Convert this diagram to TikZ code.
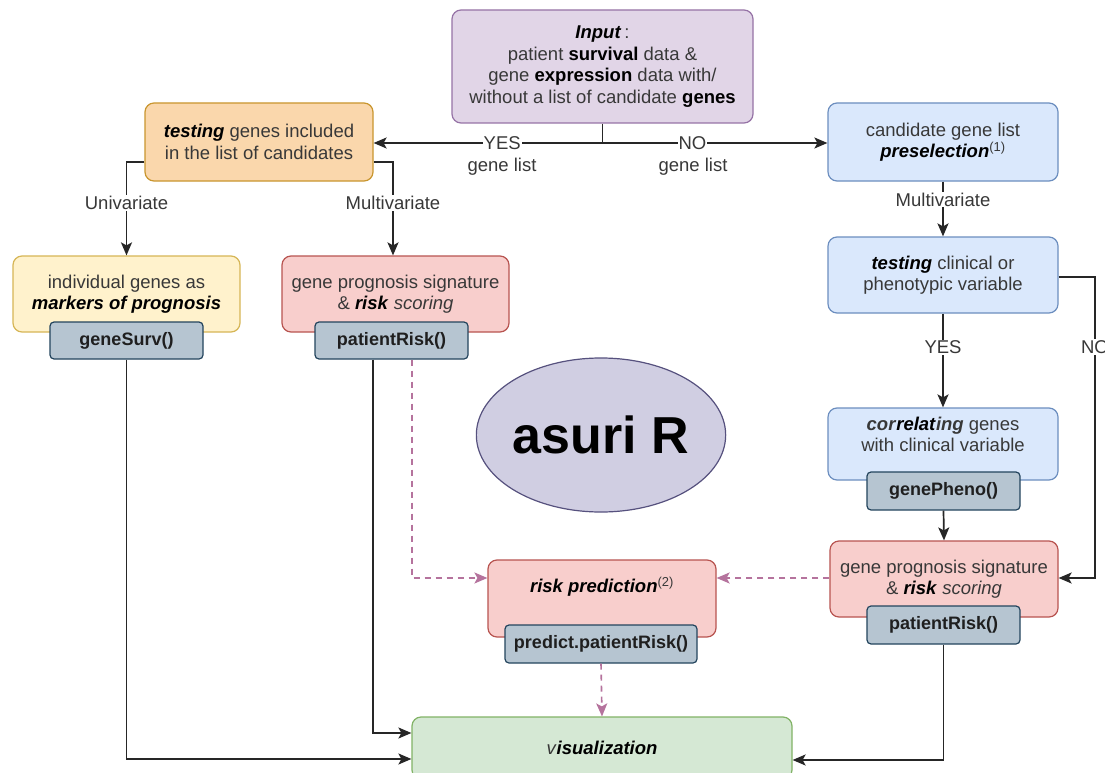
\documentclass[tikz,border=0pt]{standalone}
\usepackage{fontspec}
\setmainfont{Liberation Sans}
\usetikzlibrary{arrows.meta,shapes.geometric,calc}
\definecolor{txt}{HTML}{383838}
\definecolor{lncol}{HTML}{262626}
\definecolor{purfill}{HTML}{E1D5E7}\definecolor{purline}{HTML}{9673A6}
\definecolor{orfill}{HTML}{FAD7AC}\definecolor{orline}{HTML}{C9962F}
\definecolor{yefill}{HTML}{FFF2CC}\definecolor{yeline}{HTML}{D6B656}
\definecolor{refill}{HTML}{F8CECC}\definecolor{reline}{HTML}{B85450}
\definecolor{blfill}{HTML}{DAE8FC}\definecolor{blline}{HTML}{6C8EBF}
\definecolor{grfill}{HTML}{D5E8D4}\definecolor{grline}{HTML}{82B366}
\definecolor{fnfill}{HTML}{B6C5D1}\definecolor{fnline}{HTML}{23445D}
\definecolor{elfill}{HTML}{D0CEE2}\definecolor{elline}{HTML}{56517E}
\definecolor{dashc}{HTML}{B5739D}
\newcommand{\bfit}[1]{\textcolor{black}{\textbf{\textit{#1}}}}
\newcommand{\bfb}[1]{\textcolor{black}{\textbf{#1}}}
\begin{document}
\begin{tikzpicture}[x=1pt,y=-1pt,
  flowbox/.style={draw, rounded corners=9pt, line width=1.2pt, align=center, inner sep=0pt, text=txt, font=\fontsize{18.5}{21.5}\selectfont},
  fnbox/.style={draw=fnline, fill=fnfill, rounded corners=4pt, line width=1.2pt, inner sep=0pt, text=black!88, font=\bfseries\fontsize{18}{21}\selectfont},
  conn/.style={draw=lncol, line width=1.7pt, -{Stealth[length=13pt,width=11pt,inset=3pt]}},
  plainln/.style={draw=lncol, line width=1.7pt},
  dconn/.style={draw=dashc, line width=1.6pt, dash pattern=on 6pt off 5pt, -{Stealth[length=13pt,width=11pt,inset=3pt]}},
  lbl/.style={fill=white, inner sep=1pt, text=txt, font=\fontsize{18.5}{21.5}\selectfont},
  nolbl/.style={inner sep=1pt, text=txt, font=\fontsize{18.5}{21.5}\selectfont}
]
\useasboundingbox (0,0) rectangle (1105,773);
\fill[white] (0,0) rectangle (1105,773);

% main boxes
\node[flowbox, fill=purfill, draw=purline, minimum width=301pt, minimum height=113pt] (input) at (602.5,66.5)
  {\bfit{Input}\,:\\patient \bfb{survival} data \&\\gene \bfb{expression} data with/\\without a list of candidate \bfb{genes}};
\node[flowbox, fill=orfill, draw=orline, minimum width=228pt, minimum height=78pt] (test) at (259,142)
  {\bfit{testing} genes included\\in the list of candidates};
\node[flowbox, fill=blfill, draw=blline, minimum width=230pt, minimum height=78pt] (pre) at (943,142)
  {candidate gene list\\\bfit{preselection}\textsuperscript{(1)}};
\node[flowbox, fill=yefill, draw=yeline, minimum width=227pt, minimum height=76pt] (marker) at (126.5,294)
  {individual genes as\\\bfit{markers of prognosis}\vphantom{p}};
\node[flowbox, fill=refill, draw=reline, minimum width=227pt, minimum height=76pt] (sig1) at (395.5,294)
  {gene prognosis signature\\\& \bfit{risk} \textit{scoring}};
\node[flowbox, fill=blfill, draw=blline, minimum width=230pt, minimum height=76pt] (clin) at (943,275)
  {\bfit{testing} clinical or\\phenotypic variable};
\node[flowbox, fill=blfill, draw=blline, minimum width=230pt, minimum height=72pt] (corr) at (943,444)
  {\textit{\textbf{cor}}\bfit{relat}\textit{\textbf{ing}} genes\\with clinical variable\\[-2pt]};
\node[flowbox, fill=refill, draw=reline, minimum width=228pt, minimum height=76pt] (sig2) at (944,579)
  {gene prognosis signature\\\& \bfit{risk} \textit{scoring}};
\node[flowbox, fill=refill, draw=reline, minimum width=228pt, minimum height=77pt] (riskpred) at (602,598.5)
  {\bfit{risk prediction}\textsuperscript{(2)}\\[6pt]};
\node[flowbox, fill=grfill, draw=grline, minimum width=380pt, minimum height=62pt] (vis) at (602,748)
  {\textit{v}\bfit{isualization}};
\node[ellipse, draw=elline, fill=elfill, line width=1.2pt, minimum width=228pt, minimum height=154pt, inner sep=0pt,
  font=\bfseries\fontsize{52}{60}\selectfont] (asuri) at (601,435) {asuri R};

% function boxes
\node[fnbox, minimum width=153pt, minimum height=37pt] (gsurv) at (126.5,340.5) {geneSurv()};
\node[fnbox, minimum width=153pt, minimum height=37pt] (pr1) at (391.5,340.5) {patientRisk()};
\node[fnbox, minimum width=153pt, minimum height=38pt] (gpheno) at (943.5,491) {genePheno()};
\node[fnbox, minimum width=153pt, minimum height=38pt] (pr2) at (943.5,625) {patientRisk()};
\node[fnbox, minimum width=192pt, minimum height=38pt] (predict) at (601,644) {predict.patientRisk()};

% input split
\coordinate (split) at (602.5,143);
\coordinate (nox) at (1095,0);
\draw[plainln] (input.south) -- (split);
\draw[conn] (split) -- node[lbl, pos=0.438] (yes1) {YES} (split -| test.east);
\draw[conn] (split) -- node[lbl, pos=0.40] (no1) {NO} (split -| pre.west);
\node[nolbl] (gl1) at (502,167) {gene list};
\node[nolbl] (gl2) at (693,167) {gene list};

% left branches
\draw[conn] ([yshift=-20pt]test.west) -| node[lbl, pos=0.72] (uni) {Univariate} (marker.north);
\draw[conn] ([yshift=-20pt]test.east) -| node[lbl, pos=0.72] (multi1) {Multivariate} ([xshift=-2.5pt]sig1.north);

% right column
\draw[conn] (pre.south) -- node[lbl, pos=0.33] (multi2) {Multivariate} (clin.north);
\draw[conn] (clin.south) -- node[lbl, pos=0.36] (yes2) {YES} (corr.north);
\draw[conn] ([yshift=-2pt]clin.east) -- ([yshift=-2pt]clin.east -| nox) |- ([yshift=1pt]sig2.east);
\node[lbl] (no2) at (1095,347) {NO};
\draw[conn] (gpheno.south) -- (sig2.north);

% to visualization
\draw[conn] (gsurv.south) |- ([yshift=-11pt]vis.west);
\draw[conn] ([xshift=-18.5pt]pr1.south) |- ([yshift=15pt]vis.west);
\draw[conn] (pr2.south) |- ([yshift=-12pt]vis.east);

% dashed
\draw[dconn] ([xshift=20.5pt]pr1.south) |- ([yshift=20.5pt]riskpred.west);
\draw[dconn] ([yshift=1pt]sig2.west) -- ([yshift=1pt]sig2.west -| riskpred.east);
\draw[dconn] (predict.south) -- (vis.north);
\end{tikzpicture}
\end{document}
